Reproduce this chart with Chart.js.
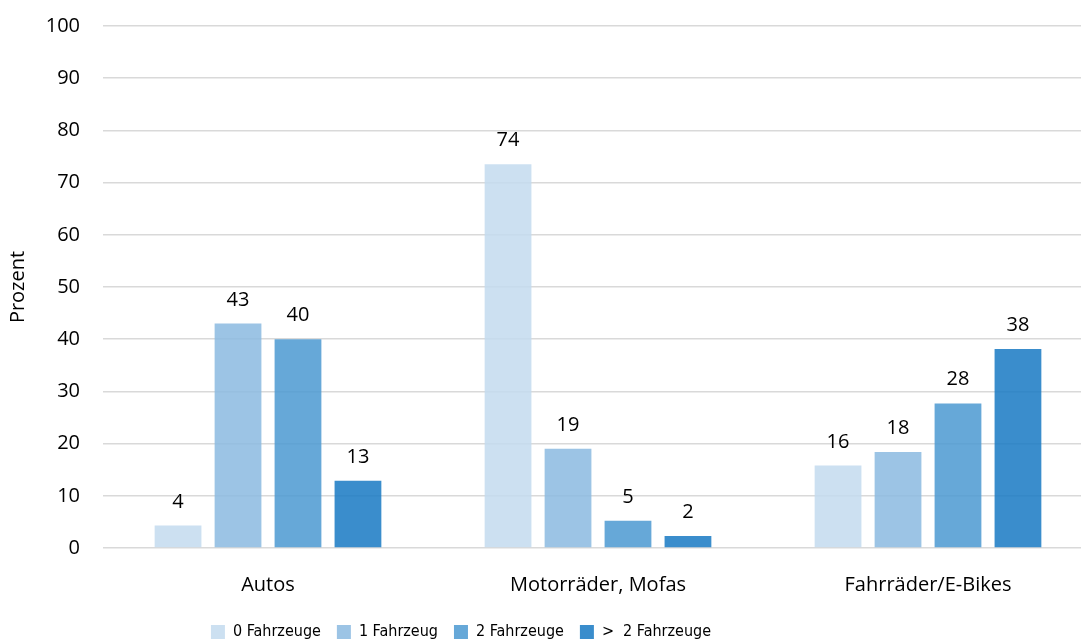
<!DOCTYPE html>
<html>
<head>
<meta charset="utf-8">
<script src="https://cdn.jsdelivr.net/npm/chart.js@4/dist/chart.umd.min.js"></script>
<style>
  html, body { margin: 0; padding: 0; background: #fff; overflow: hidden; }
  #wrap { width: 1093px; height: 652px; }
</style>
</head>
<body>
<div id="wrap"><canvas id="chart"></canvas></div>
<script>
const categories = ['Autos', 'Motorräder, Mofas', 'Fahrräder/E-Bikes'];
const seriesNames = ['0 Fahrzeuge', '1 Fahrzeug', '2 Fahrzeuge', '>  2 Fahrzeuge'];
const zeroVehicles = [4.3, 73.5, 15.8];
const oneVehicle = [43.0, 19.0, 18.4];
const twoVehicles = [40.0, 5.2, 27.7];
const moreVehicles = [12.9, 2.3, 38.1];
const colors = ['rgba(195,219,239,0.85)', 'rgba(139,186,224,0.85)', 'rgba(75,153,209,0.85)', 'rgba(23,121,195,0.85)'];

const FONT = '"Open Sans", "DejaVu Sans", sans-serif';
const NARROW = '"Liberation Sans Narrow", "DejaVu Sans Condensed", "Open Sans", sans-serif';
const LEGEND_CENTER = 461;

// draws the rounded value above each bar
const valueLabels = {
  id: 'valueLabels',
  afterDatasetsDraw(chart) {
    const c = chart.ctx;
    c.save();
    c.font = '20px ' + FONT;
    c.fillStyle = '#000';
    c.textAlign = 'center';
    c.textBaseline = 'alphabetic';
    chart.data.datasets.forEach((ds, i) => {
      chart.getDatasetMeta(i).data.forEach((bar, j) => {
        c.fillText(String(Math.round(ds.data[j])), bar.x, bar.y - 18);
      });
    });
    c.restore();
  }
};

// the legend in the original sits left of centre
const shiftLegend = {
  id: 'shiftLegend',
  afterLayout(chart) {
    const lg = chart.legend;
    const w = lg.right - lg.left;
    lg.left = LEGEND_CENTER - w / 2;
    lg.right = lg.left + w;
  }
};

const allSeries = [zeroVehicles, oneVehicle, twoVehicles, moreVehicles];

function draw() {
  new Chart(document.getElementById('chart'), {
    type: 'bar',
    data: {
      labels: categories,
      datasets: allSeries.map((d, i) => ({
        label: seriesNames[i],
        data: d,
        backgroundColor: colors[i],
        categoryPercentage: 0.727,
        barPercentage: 0.78
      }))
    },
    options: {
      responsive: true,
      maintainAspectRatio: false,
      animation: false,
      layout: { padding: { top: 26, right: 0, left: 4, bottom: 2 } },
      plugins: {
        tooltip: { enabled: false },
        legend: {
          position: 'bottom',
          labels: {
            font: { family: NARROW, size: 16 },
            color: '#000',
            boxWidth: 14,
            boxHeight: 14,
            padding: 16
          }
        }
      },
      scales: {
        x: {
          grid: { display: false },
          border: { display: false },
          ticks: { font: { family: FONT, size: 20 }, color: '#000', padding: 17 },
          afterFit(axis) { axis.height = 60; }
        },
        y: {
          min: 0,
          max: 100,
          ticks: { stepSize: 10, font: { family: FONT, size: 20 }, color: '#000', padding: 2 },
          grid: { color: '#d9d9d9', lineWidth: 1.5, drawTicks: true, tickLength: 21, tickColor: 'rgba(0,0,0,0)' },
          border: { display: false },
          title: { display: true, text: 'Prozent', font: { family: FONT, size: 20 }, color: '#000', padding: 2 },
          afterFit(axis) { axis.width = 99; }
        }
      }
    },
    plugins: [valueLabels, shiftLegend]
  });
}

Promise.all([
  document.fonts.load('20px "Open Sans"', 'Autos 0123456789'),
  document.fonts.load('16px "Liberation Sans Narrow"', 'Fahrzeuge'),
  document.fonts.load('16px "DejaVu Sans Condensed"', 'Fahrzeuge')
]).catch(() => {}).then(draw);
</script>
</body>
</html>
